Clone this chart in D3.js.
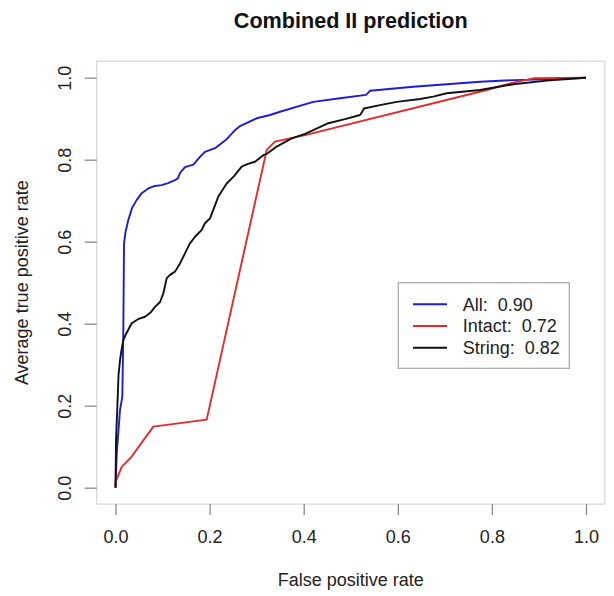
<!DOCTYPE html>
<html>
<head>
<meta charset="utf-8">
<script src="https://cdn.jsdelivr.net/npm/d3@7"></script>
<style>
  html, body { margin: 0; padding: 0; background: #fff; }
  svg { display: block; font-family: "Liberation Sans", Arial, Helvetica, sans-serif; }
</style>
</head>
<body>
<svg id="chart" width="614" height="596"></svg>
<script>
// ROC curves: false positive rate vs. average true positive rate
const allFpr = [0, 0.0026, 0.0064, 0.0096, 0.0145, 0.0166, 0.0181, 0.0213, 0.0272, 0.0351, 0.0451, 0.0563, 0.0697, 0.0840, 0.0982, 0.1116, 0.1265, 0.1328, 0.1371, 0.1477, 0.1654, 0.1796, 0.190, 0.2115, 0.2363, 0.254, 0.2646, 0.300, 0.3284, 0.3496, 0.4204, 0.477, 0.5324, 0.541, 0.633, 0.704, 0.775, 0.8455, 0.9165, 1];
const allTpr = [0, 0.085, 0.141, 0.190, 0.222, 0.385, 0.596, 0.624, 0.653, 0.682, 0.702, 0.719, 0.730, 0.736, 0.738, 0.743, 0.750, 0.755, 0.768, 0.782, 0.788, 0.807, 0.819, 0.828, 0.850, 0.872, 0.882, 0.901, 0.909, 0.917, 0.941, 0.950, 0.958, 0.968, 0.978, 0.984, 0.990, 0.994, 0.996, 1];

const intactFpr = [0, 0.0004, 0.0132, 0.0344, 0.0803, 0.1938, 0.3214, 0.339, 0.4028, 0.789, 0.8455, 0.888, 1];
const intactTpr = [0, 0.015, 0.051, 0.076, 0.149, 0.166, 0.824, 0.844, 0.860, 0.970, 0.988, 0.9985, 1];

const stringFpr = [0, 0.0004, 0.0011, 0.0047, 0.0064, 0.0096, 0.0128, 0.0166, 0.0223, 0.0344, 0.0478, 0.0627, 0.0733, 0.0840, 0.0946, 0.1016, 0.1088, 0.1158, 0.1265, 0.1371, 0.1513, 0.1583, 0.169, 0.1832, 0.190, 0.2009, 0.2185, 0.2363, 0.2519, 0.2682, 0.2816, 0.2965, 0.3141, 0.3214, 0.3426, 0.3745, 0.4028, 0.4204, 0.4523, 0.4878, 0.5197, 0.5239, 0.528, 0.562, 0.5977, 0.647, 0.6754, 0.7039, 0.7747, 0.8455, 0.9165, 1];
const stringTpr = [0, 0.043, 0.116, 0.222, 0.275, 0.311, 0.336, 0.360, 0.375, 0.401, 0.411, 0.417, 0.426, 0.441, 0.453, 0.474, 0.511, 0.519, 0.527, 0.547, 0.580, 0.596, 0.612, 0.629, 0.645, 0.657, 0.710, 0.742, 0.760, 0.783, 0.790, 0.795, 0.811, 0.814, 0.832, 0.852, 0.863, 0.872, 0.889, 0.899, 0.909, 0.916, 0.925, 0.933, 0.941, 0.948, 0.954, 0.962, 0.970, 0.984, 0.993, 1];

const seriesNames = ["All", "Intact", "String"];
const seriesAuc = [0.90, 0.72, 0.82];
const seriesColors = ["#1c1cd8", "#e42a2a", "#111111"];
const tickValues = [0, 0.2, 0.4, 0.6, 0.8, 1.0];

const chartTitle = "Combined II prediction";
const xTitle = "False positive rate";
const yTitle = "Average true positive rate";

const series = [
  { name: seriesNames[0], auc: seriesAuc[0], color: seriesColors[0], pts: allFpr.map((f, i) => [f, allTpr[i]]) },
  { name: seriesNames[1], auc: seriesAuc[1], color: seriesColors[1], pts: intactFpr.map((f, i) => [f, intactTpr[i]]) },
  { name: seriesNames[2], auc: seriesAuc[2], color: seriesColors[2], pts: stringFpr.map((f, i) => [f, stringTpr[i]]) }
];

const svg = d3.select("#chart");

// plot region (data range padded by 4% on each side)
const plotL = 96.7, plotR = 604.8, plotT = 61.3, plotB = 504.1;
const x = d3.scaleLinear().domain([-0.04, 1.04]).range([plotL, plotR]);
const y = d3.scaleLinear().domain([-0.04, 1.04]).range([plotB, plotT]);

// frame
svg.append("rect")
  .attr("x", plotL).attr("y", plotT)
  .attr("width", plotR - plotL).attr("height", plotB - plotT)
  .attr("fill", "none").attr("stroke", "#d6d6d6").attr("stroke-width", 1.2);

// x axis
const xAxis = svg.append("g")
  .attr("transform", `translate(0,${plotB})`)
  .call(d3.axisBottom(x).tickValues(tickValues).tickSize(11).tickPadding(15).tickFormat(d3.format(".1f")));
xAxis.select(".domain").remove();
xAxis.selectAll(".tick line").attr("stroke", "#8a8a8a").attr("stroke-width", 1.3);
xAxis.selectAll(".tick text").attr("fill", "#222").style("font-size", "18px").style("font-family", "'Liberation Sans', Arial, sans-serif");

// y axis with rotated labels
const yAxis = svg.append("g")
  .attr("transform", `translate(${plotL},0)`)
  .call(d3.axisLeft(y).tickValues(tickValues).tickSize(12).tickFormat(d3.format(".1f")));
yAxis.select(".domain").remove();
yAxis.selectAll(".tick line").attr("stroke", "#8a8a8a").attr("stroke-width", 1.3);
yAxis.selectAll(".tick text")
  .attr("x", 0).attr("y", 0).attr("dy", null)
  .attr("text-anchor", "middle")
  .attr("transform", `translate(${71 - plotL},0) rotate(-90)`)
  .attr("fill", "#222").style("font-size", "18px").style("font-family", "'Liberation Sans', Arial, sans-serif");

// curves
const line = d3.line().x(d => x(d[0])).y(d => y(d[1]));
svg.append("g").selectAll("path")
  .data(series)
  .join("path")
  .attr("d", d => line(d.pts))
  .attr("fill", "none")
  .attr("stroke", d => d.color)
  .attr("stroke-width", 1.9)
  .attr("stroke-linejoin", "round");

// titles
svg.append("text")
  .attr("x", (plotL + plotR) / 2).attr("y", 28)
  .attr("text-anchor", "middle")
  .style("font-size", "21.6px").style("font-weight", "bold").attr("fill", "#111")
  .text(chartTitle);

svg.append("text")
  .attr("x", (plotL + plotR) / 2).attr("y", 586)
  .attr("text-anchor", "middle")
  .style("font-size", "18px").attr("fill", "#222")
  .text(xTitle);

svg.append("text")
  .attr("transform", `translate(28,${(plotT + plotB) / 2}) rotate(-90)`)
  .attr("text-anchor", "middle")
  .style("font-size", "18px").attr("fill", "#222")
  .text(yTitle);

// legend
const lg = svg.append("g");
lg.append("rect")
  .attr("x", 398.3).attr("y", 282.7).attr("width", 171).attr("height", 85.6)
  .attr("fill", "#fff").attr("stroke", "#a8a8a8").attr("stroke-width", 1.2);
const rows = lg.selectAll("g.row")
  .data(series)
  .join("g")
  .attr("class", "row")
  .attr("transform", (d, i) => `translate(0,${304.3 + i * 21.7})`);
rows.append("line")
  .attr("x1", 413).attr("x2", 447).attr("y1", 0).attr("y2", 0)
  .attr("stroke", d => d.color).attr("stroke-width", 1.9);
rows.append("text")
  .attr("x", 462.7).attr("y", 0).attr("dy", "0.36em")
  .style("font-size", "18px").style("white-space", "pre").attr("fill", "#222")
  .text(d => `${d.name}:  ${d.auc.toFixed(2)}`);
</script>
</body>
</html>
